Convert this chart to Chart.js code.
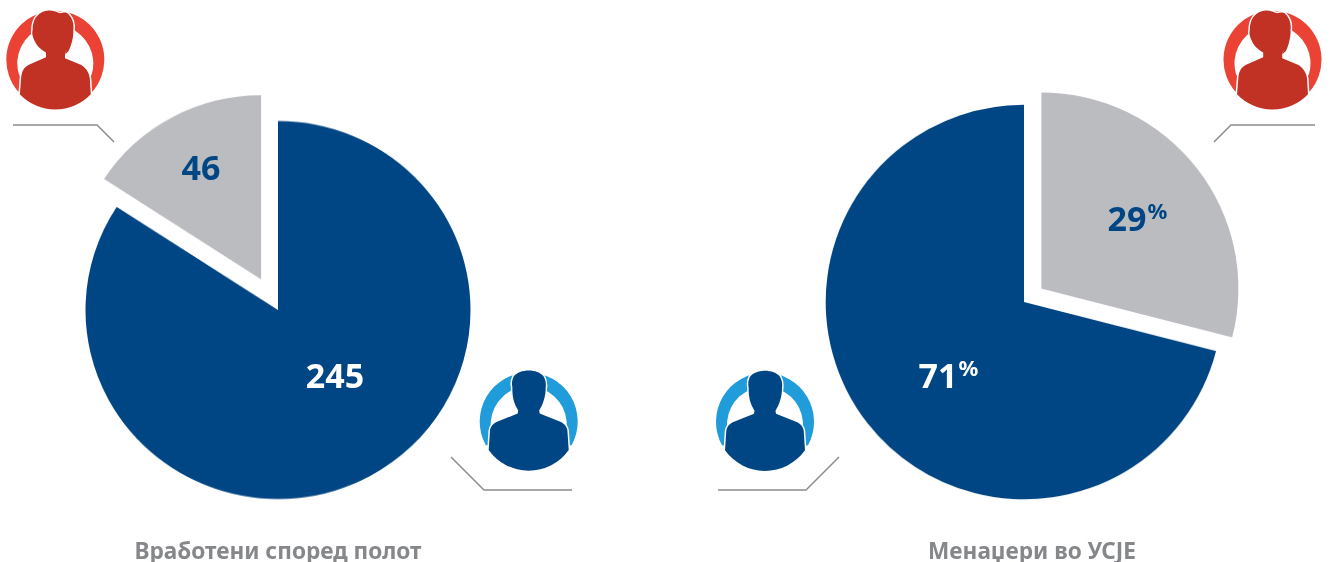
<!DOCTYPE html>
<html lang="mk">
<head>
<meta charset="UTF-8">
<title>Вработени и менаџери</title>
<script src="https://cdn.jsdelivr.net/npm/chart.js"></script>
<style>
    html, body { margin: 0; padding: 0; background: #fff; overflow: hidden; }
    #page { position: relative; width: 1330px; height: 562px; font-family: "Noto Sans", sans-serif; }
    canvas { position: absolute; }
    /* the source pies are a touch flatter than a true circle */
    #pie-left { left: 28.3px; top: 60px; transform: scaleY(.982); }
    #pie-right { left: 773.5px; top: 52px; transform: scaleY(.995); }
    svg.art { position: absolute; left: 0; top: 0; }
    .value { position: absolute; font-weight: 700; font-size: 34px; line-height: 40px; white-space: nowrap; transform: translate(-50%, -50%); }
    .value sup { font-size: 22px; line-height: 0; vertical-align: 12px; margin-left: 1px; }
    .title { position: absolute; top: 536px; font-weight: 700; font-size: 22.6px; line-height: 30px; color: #85878a; white-space: nowrap; transform: translateX(-50%); }
</style>
</head>
<body>
<div id="page">
    <canvas id="pie-left" width="500" height="500"></canvas>
    <canvas id="pie-right" width="500" height="500"></canvas>

    <svg class="art" width="1330" height="562">
        <defs>
            <g id="woman">
                <path d="M-37 31.5 A49 49 0 1 1 37 31.5 L30.2 26 A38 38 0 1 0 -30.2 26 Z" fill="#ea4335"/>
                <path d="M-7 -49.7 C-2 -50 2 -48 4.7 -47 C8 -48 11 -48 13 -46.3 C17 -42 19 -37 18 -30 C18.5 -24 16 -14 13 -8.7 L10 -6 L11.5 -11 L9.7 -6.3 L9.7 -2 L26 4.7 C31 8 34 13 34.5 18 L35.5 34 A49 49 0 0 1 -35.5 34 L-34 16 C-33 10 -31 7 -27 4.7 L-9.3 -3 L-9.3 -7.7 C-15 -11 -19 -15 -20.3 -18.7 C-23 -24 -23.5 -27 -22.7 -30.3 C-22.5 -37 -21 -41 -18.7 -43.7 C-15 -48 -11 -49.5 -7 -49.7 Z" fill="#c13124" stroke="#fff" stroke-width="3" paint-order="stroke"/>
            </g>
            <g id="man">
                <path d="M-43 23.5 A49 49 0 1 1 43 23.5 L30.2 26 A38 38 0 1 0 -30.2 26 Z" fill="#1f9cd9"/>
                <path d="M0 -51 C-6 -51 -12 -49 -15 -45 C-17 -41 -17 -37 -16.3 -34 C-16.5 -30 -16 -25 -15 -21 C-14 -17 -12 -14 -10.5 -11 L-11 -8 L-31 0 C-36 2 -38 5 -38.7 9 L-40 28.5 A49 49 0 0 0 40 28.5 L38.7 9 C38 5 36 2 31 0 L11 -8 L10.5 -11 C12 -14 14 -17 15 -21 C16.5 -25 17 -30 17 -34 C17.5 -38 17 -41 15 -45 C12 -49 6 -51 0 -51 Z" fill="#004685" stroke="#fff" stroke-width="3" paint-order="stroke"/>
            </g>
        </defs>
        <g fill="none" stroke="#8c8c8c" stroke-width="1.5">
            <path d="M13 125 H97 L114 142"/>
            <path d="M451 457 L484 490 H572"/>
            <path d="M718 490 H806 L839 457"/>
            <path d="M1214 142 L1231 125 H1315"/>
        </g>
        <use href="#woman" x="55.3" y="60.3"/>
        <use href="#man" x="528.7" y="421.5"/>
        <use href="#man" x="765" y="421.7"/>
        <use href="#woman" x="1272.5" y="60.3"/>
    </svg>
</div>

<script>
    // податоци од графиконите
    const leftTitle = 'Вработени според полот';
    const rightTitle = 'Менаџери во УСЈЕ';
    const leftCategories = ['Мажи', 'Жени'];
    const leftValues = [245, 46];
    const rightCategories = ['Жени', 'Мажи'];
    const rightValues = [29, 71];

    const BLUE = '#004685';
    const GREY = '#bbbcc0';

    // the built-in offset also grows the slice, so move the arc itself
    const explodeSlice = {
        id: 'explodeSlice',
        afterDatasetsUpdate(chart, args, opts) {
            const arc = chart.getDatasetMeta(0).data[opts.index];
            const mid = (arc.startAngle + arc.endAngle) / 2;
            arc.x += Math.cos(mid) * opts.distance;
            arc.y += Math.sin(mid) * opts.distance;
            arc.outerRadius = opts.radius;
        }
    };

    function makePie(id, labels, values, colors, radius, explode) {
        new Chart(document.getElementById(id), {
            type: 'pie',
            data: {
                labels: labels,
                datasets: [{ data: values, backgroundColor: colors, borderWidth: 0, hoverOffset: 0 }]
            },
            options: {
                responsive: false,
                animation: false,
                radius: radius,
                events: [],
                plugins: { legend: { display: false }, tooltip: { enabled: false }, explodeSlice: explode }
            },
            plugins: [explodeSlice]
        });
    }

    makePie('pie-left', leftCategories, leftValues, [BLUE, GREY], 192.5, { index: 1, distance: 35.5, radius: 187.5 });
    makePie('pie-right', rightCategories, rightValues, [GREY, BLUE], 198.3, { index: 0, distance: 22, radius: 197 });

    const page = document.getElementById('page');

    function addValue(text, suffix, x, y, color) {
        const el = document.createElement('div');
        el.className = 'value';
        el.style.left = x + 'px';
        el.style.top = y + 'px';
        el.style.color = color;
        el.textContent = text;
        if (suffix) {
            const s = document.createElement('sup');
            s.textContent = suffix;
            el.appendChild(s);
        }
        page.appendChild(el);
    }

    function addTitle(text, x) {
        const el = document.createElement('div');
        el.className = 'title';
        el.style.left = x + 'px';
        el.textContent = text;
        page.appendChild(el);
    }

    addValue(leftValues[1], '', 201, 167, BLUE);
    addValue(leftValues[0], '', 335, 375, '#fff');
    addValue(rightValues[0], '%', 1137.5, 218, BLUE);
    addValue(rightValues[1], '%', 948.5, 375, '#fff');

    addTitle(leftTitle, 278);
    addTitle(rightTitle, 1032);
</script>
</body>
</html>
